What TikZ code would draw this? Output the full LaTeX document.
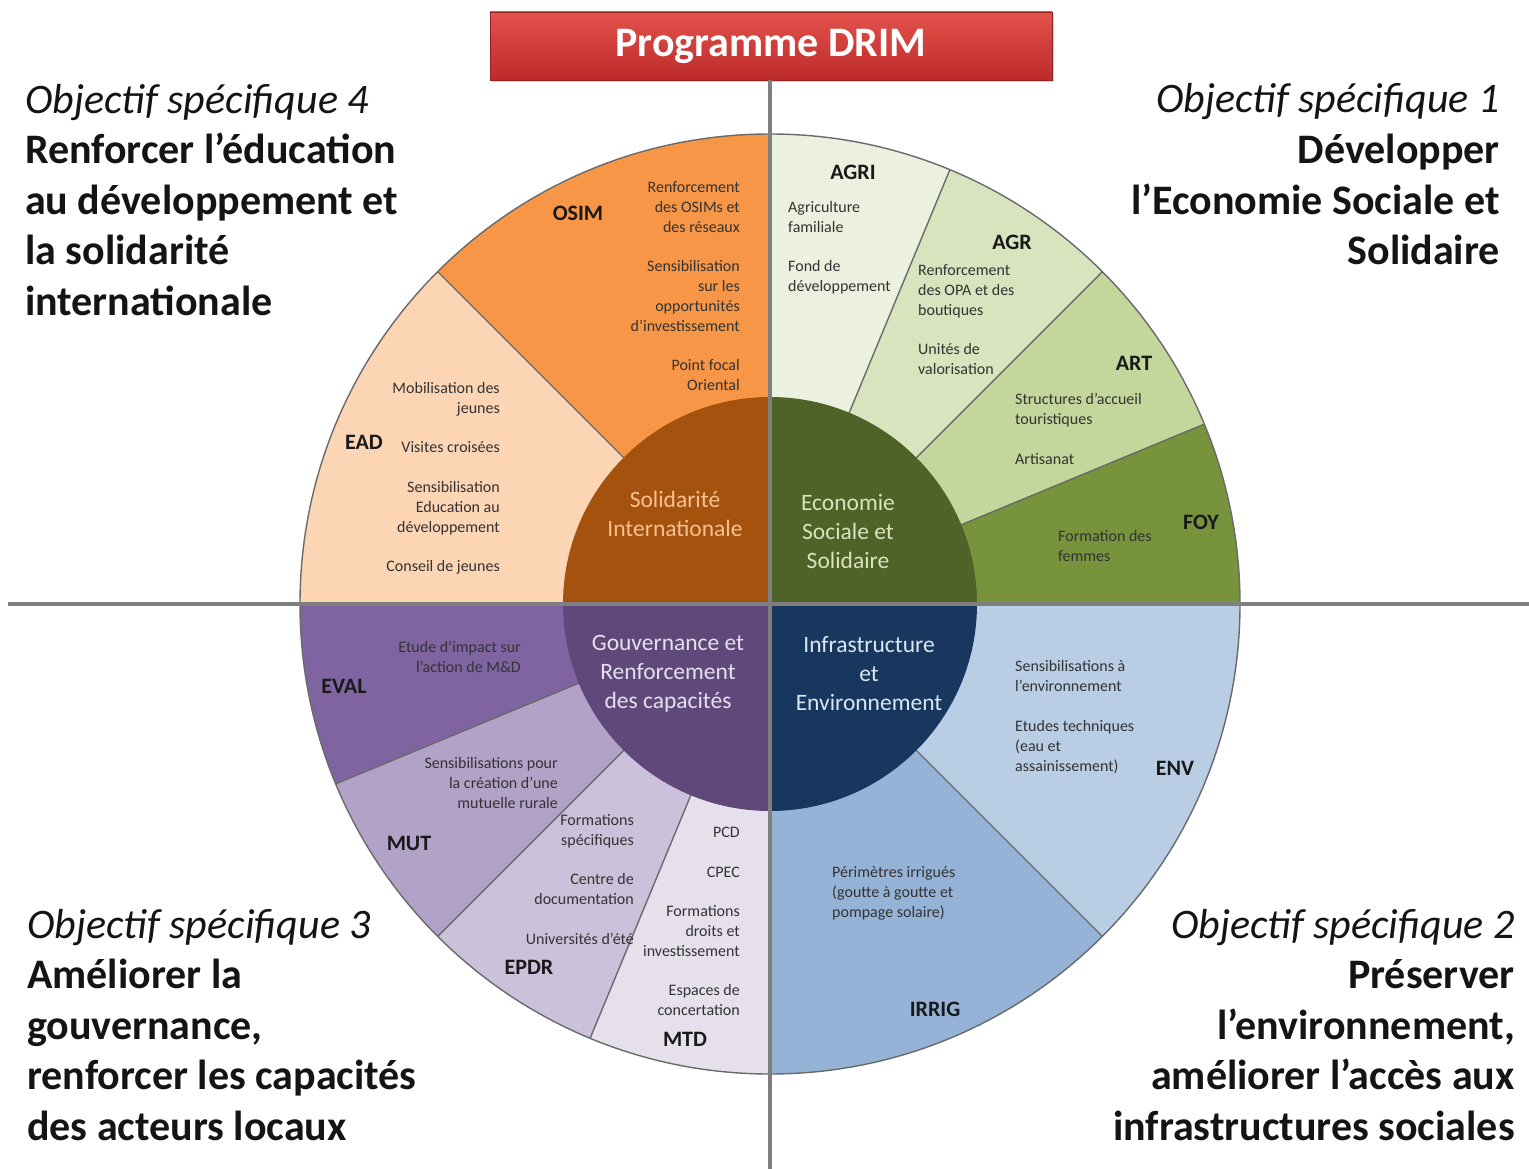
\documentclass[tikz,border=0pt]{standalone}
\usepackage{fontspec}
\setmainfont{Carlito}
\usetikzlibrary{shadows}
\definecolor{cOSIM}{HTML}{F79646}
\definecolor{cEAD}{HTML}{FCD5B5}
\definecolor{cAGRI}{HTML}{EBF1DE}
\definecolor{cAGR}{HTML}{D7E4BD}
\definecolor{cART}{HTML}{C3D69B}
\definecolor{cFOY}{HTML}{77933C}
\definecolor{cENV}{HTML}{B9CDE5}
\definecolor{cIRRIG}{HTML}{95B3D7}
\definecolor{cMTD}{HTML}{E5E0EC}
\definecolor{cEPDR}{HTML}{CCC1DA}
\definecolor{cMUT}{HTML}{B3A2C7}
\definecolor{cEVAL}{HTML}{8064A2}
\definecolor{iSI}{HTML}{A4520E}
\definecolor{iESS}{HTML}{4F6228}
\definecolor{iGRC}{HTML}{60497A}
\definecolor{iIE}{HTML}{17375E}
\definecolor{tSI}{HTML}{FAC090}
\definecolor{tESS}{HTML}{D7E4BD}
\definecolor{tGRC}{HTML}{E5E0EC}
\definecolor{tIE}{HTML}{DCE6F2}
\definecolor{sepgray}{HTML}{6A6A6A}
\definecolor{crossgray}{HTML}{7F7F7F}
\definecolor{txtdark}{HTML}{333333}
\definecolor{titletop}{HTML}{E4524C}
\definecolor{titlebot}{HTML}{BC2A2A}
\newcommand\drimsector[3]{\fill[#3] (C) -- ++(#1:470pt) arc[start angle=#1, end angle=#2, radius=470pt] -- cycle;}
\newcommand\drimquad[3]{\fill[#3] (C) -- ++(#1:207pt) arc[start angle=#1, end angle=#2, radius=207pt] -- cycle;}
\begin{document}
\begin{tikzpicture}[x=1pt,y=-1pt,
  sepline/.style={draw=sepgray, line width=1.4pt},
  crossline/.style={draw=crossgray, line width=4pt},
  smalltxt/.style={font=\fontsize{16}{20}\selectfont, inner sep=0pt, text=txtdark},
  lbl/.style={font=\fontsize{22}{26}\selectfont\bfseries, inner sep=0pt, text=black!90},
  innertxt/.style={font=\fontsize{23.5}{29}\selectfont, align=center, inner sep=0pt},
  bigtxt/.style={font=\fontsize{42}{50.5}\selectfont\bfseries, inner sep=0pt, text=black!92},
  titlebox/.style={top color=titletop, bottom color=titlebot, draw=titlebot!80!black, line width=0.8pt,
    minimum width=562pt, minimum height=68pt, inner sep=0pt, text=white,
    text height=22pt, text depth=0pt,
    font=\fontsize{42}{48}\selectfont\bfseries, drop shadow={opacity=0.35, shadow xshift=2pt, shadow yshift=-2pt}}
]
\useasboundingbox (0,0) rectangle (1529,1169);
\fill[white] (0,0) rectangle (1529,1169);
\coordinate (C) at (770,604);

% outer sectors
\drimsector{90}{135}{cOSIM}
\drimsector{135}{180}{cEAD}
\drimsector{67.5}{90}{cAGRI}
\drimsector{45}{67.5}{cAGR}
\drimsector{22.5}{45}{cART}
\drimsector{0}{22.5}{cFOY}
\drimsector{-45}{0}{cENV}
\drimsector{-90}{-45}{cIRRIG}
\drimsector{-112.5}{-90}{cMTD}
\drimsector{-135}{-112.5}{cEPDR}
\drimsector{-157.5}{-135}{cMUT}
\drimsector{-180}{-157.5}{cEVAL}

% separators
\foreach \a in {135,67.5,45,22.5,-45,-112.5,-135,-157.5}
  \draw[sepline] (C) -- ++(\a:470pt);
\draw[sepline] (C) circle[radius=470pt];

% inner circle
\drimquad{90}{180}{iSI}
\drimquad{0}{90}{iESS}
\drimquad{180}{270}{iGRC}
\drimquad{270}{360}{iIE}

% title and cross
\node[titlebox] (title) at (771,46) {Programme DRIM};
\coordinate (vb) at (770,1169);
\coordinate (hl) at (8,604);
\coordinate (hr) at (1529,604);
\draw[crossline] (hl) -- (hr);
\draw[crossline] (title.south -| C) -- (vb);

% inner texts
\node[innertxt, text=tSI] (tsi) at (675,514) {Solidarité\\Internationale};
\node[innertxt, text=tESS] (tess) at (848,531) {Economie\\Sociale et\\Solidaire};
\node[innertxt, text=tGRC] (tgrc) at (668,674) {Gouvernance et\\Renforcement\\des capacités};
\node[innertxt, text=tIE] (tie) at (869,674) {Infrastructure\\et\\Environnement};

% labels
\node[lbl] (lOSIM) at (578,213) {OSIM};
\node[lbl] (lEAD) at (364,442) {EAD};
\node[lbl] (lAGRI) at (853,172) {AGRI};
\node[lbl] (lAGR) at (1012,242) {AGR};
\node[lbl] (lART) at (1134,363) {ART};
\node[lbl] (lFOY) at (1201,522) {FOY};
\node[lbl] (lEVAL) at (344,686) {EVAL};
\node[lbl] (lMUT) at (409,843) {MUT};
\node[lbl] (lEPDR) at (529,967) {EPDR};
\node[lbl] (lMTD) at (685,1039) {MTD};
\node[lbl] (lENV) at (1175,768) {ENV};
\node[lbl] (lIRRIG) at (935,1009) {IRRIG};

% small texts (anchor = baseline of last line)
\node[smalltxt, align=right, anchor=base east] (sOSIM) at (740,390)
  {Renforcement\\des OSIMs et\\des réseaux\\[19pt]Sensibilisation\\sur les\\opportunités\\d’investissement\\[19pt]Point focal\\Oriental};
\node[smalltxt, align=right, anchor=base east] (sEAD) at (500,571)
  {Mobilisation des\\jeunes\\[19pt]Visites croisées\\[20pt]Sensibilisation\\Education au\\développement\\[19pt]Conseil de jeunes};
\node[smalltxt, align=left, anchor=base west] (sAGRI) at (788,291)
  {Agriculture\\familiale\\[19pt]Fond de\\développement};
\node[smalltxt, align=left, anchor=base west] (sAGR) at (918,374)
  {Renforcement\\des OPA et des\\boutiques\\[19pt]Unités de\\valorisation};
\node[smalltxt, align=left, anchor=base west] (sART) at (1015,464)
  {Structures d’accueil\\touristiques\\[20pt]Artisanat};
\node[smalltxt, align=left, anchor=base west] (sFOY) at (1058,561)
  {Formation des\\femmes};
\node[smalltxt, align=right, anchor=base east] (sEVAL) at (521,672)
  {Etude d’impact sur\\l’action de M\&D};
\node[smalltxt, align=right, anchor=base east] (sMUT) at (558,808)
  {Sensibilisations pour\\la création d’une\\mutuelle rurale};
\node[smalltxt, align=right, anchor=base east] (sEPDR) at (634,944)
  {Formations\\spécifiques\\[19pt]Centre de\\documentation\\[20pt]Universités d’été};
\node[smalltxt, align=right, anchor=base east] (sMTD) at (740,1015)
  {PCD\\[20pt]CPEC\\[19pt]Formations\\droits et\\investissement\\[19pt]Espaces de\\concertation};
\node[smalltxt, align=left, anchor=base west] (sENV) at (1015,771)
  {Sensibilisations à\\l’environnement\\[20pt]Etudes techniques\\(eau et\\assainissement)};
\node[smalltxt, align=left, anchor=base west] (sIRRIG) at (832,917)
  {Périmètres irrigués\\(goutte à goutte et\\pompage solaire)};

% corner objectives (anchor = baseline of last line)
\node[bigtxt, align=left, anchor=base west] (o4) at (25,315)
  {\textnormal{\itshape Objectif spécifique 4}\\Renforcer l’éducation\\au développement et\\la solidarité\\internationale};
\node[bigtxt, align=right, anchor=base east] (o1) at (1500,264.5)
  {\textnormal{\itshape Objectif spécifique 1}\\Développer\\l’Economie Sociale et\\Solidaire};
\node[bigtxt, align=left, anchor=base west] (o3) at (27,1140)
  {\textnormal{\itshape Objectif spécifique 3}\\Améliorer la\\gouvernance,\\renforcer les capacités\\des acteurs locaux};
\node[bigtxt, align=right, anchor=base east] (o2) at (1515,1140)
  {\textnormal{\itshape Objectif spécifique 2}\\Préserver\\l’environnement,\\améliorer l’accès aux\\infrastructures sociales};
\end{tikzpicture}
\end{document}
